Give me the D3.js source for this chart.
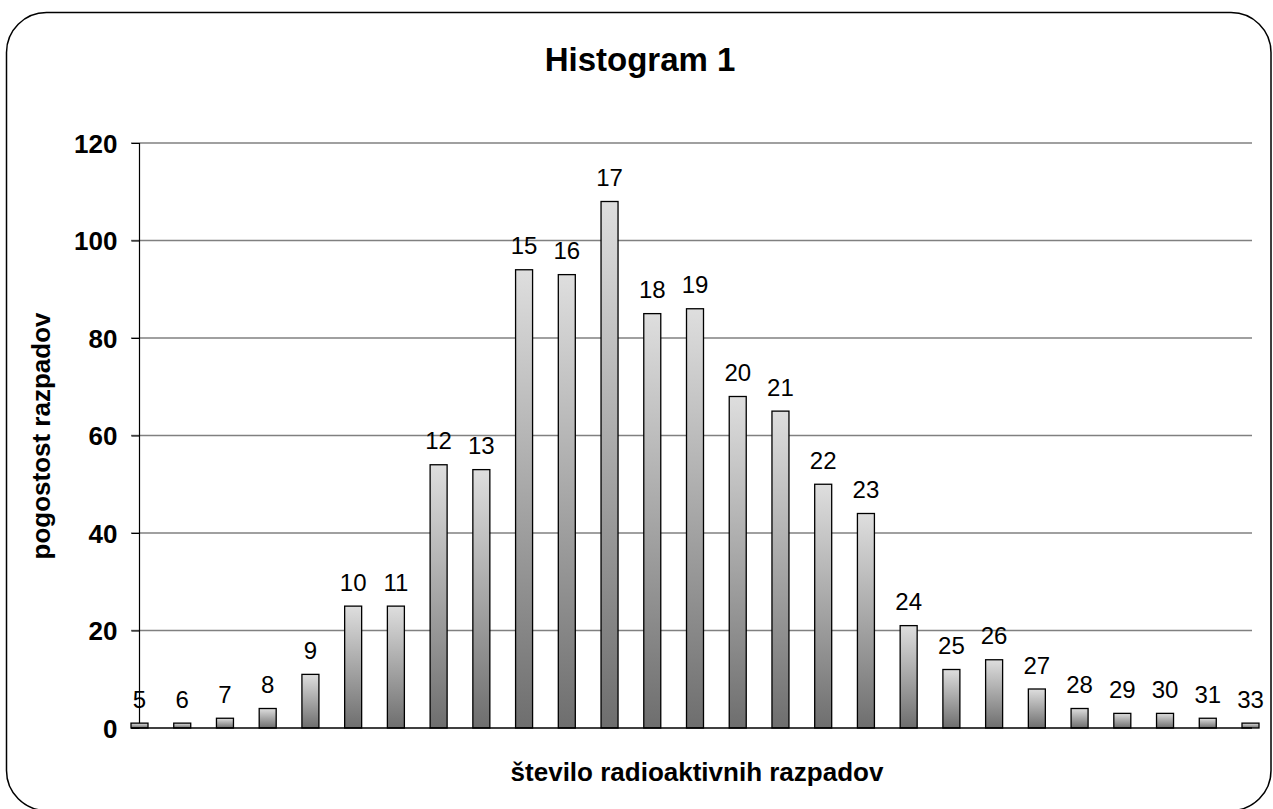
<!DOCTYPE html>
<html>
<head>
<meta charset="utf-8">
<script src="https://cdn.jsdelivr.net/npm/d3@7"></script>
<style>
html,body{margin:0;padding:0;background:#fff;}
svg{display:block;font-family:Arial,"Liberation Sans",sans-serif;}
</style>
</head>
<body>
<svg id="chart" width="1273" height="809"></svg>
<script>
const categories = ["5","6","7","8","9","10","11","12","13","15","16","17","18","19","20","21","22","23","24","25","26","27","28","29","30","31","33"];
const values = [1,1,2,4,11,25,25,54,53,94,93,108,85,86,68,65,50,44,21,12,14,8,4,3,3,2,1];
const yTicks = [0,20,40,60,80,100,120];
const titleText = "Histogram 1";
const xTitle = "število radioaktivnih razpadov";
const yTitle = "pogostost razpadov";

const svg = d3.select("#chart");

// frame
svg.append("rect")
  .attr("x",6.5).attr("y",12.5).attr("width",1264.5).attr("height",798)
  .attr("rx",40).attr("ry",40)
  .attr("fill","#fff").attr("stroke","#000").attr("stroke-width",1.5);

const defs = svg.append("defs");
const grad = defs.append("linearGradient").attr("id","barGrad")
  .attr("x1",0).attr("y1",0).attr("x2",0).attr("y2",1);
grad.append("stop").attr("offset","0%").attr("stop-color","#dedede");
grad.append("stop").attr("offset","100%").attr("stop-color","#6e6e6e");

const plotLeft = 139.5, plotRight = 1252, plotTop = 143, plotBottom = 728;

const x = d3.scalePoint().domain(categories).range([139.5, 1250.5]);
const y = d3.scaleLinear().domain([0,120]).range([plotBottom, plotTop]);

// gridlines
svg.append("g").selectAll("line").data(yTicks.filter(d=>d>0)).join("line")
  .attr("x1",131).attr("x2",plotRight)
  .attr("y1",d=>y(d)).attr("y2",d=>y(d))
  .attr("stroke","#808080").attr("stroke-width",1.5);

// y axis
const yAxis = d3.axisLeft(y).tickValues(yTicks).tickSize(8).tickPadding(14);
const yg = svg.append("g").attr("transform",`translate(${plotLeft},0)`).call(yAxis);
yg.select(".domain").remove();
yg.selectAll(".tick line").attr("stroke","#000").attr("stroke-width",1);
yg.selectAll(".tick text")
  .attr("font-family","Arial, 'Liberation Sans', sans-serif")
  .attr("font-size",26).attr("font-weight","bold").attr("fill","#000")
  .attr("dy","0.36em");
svg.append("line").attr("x1",plotLeft).attr("x2",plotLeft)
  .attr("y1",plotTop).attr("y2",plotBottom)
  .attr("stroke","#000").attr("stroke-width",1.2);

// bars
const barW = 17;
svg.append("g").selectAll("rect").data(values).join("rect")
  .attr("x",(d,i)=>x(categories[i]) - barW/2)
  .attr("y",d=>y(d))
  .attr("width",barW)
  .attr("height",d=>plotBottom - y(d))
  .attr("fill","url(#barGrad)")
  .attr("stroke","#000").attr("stroke-width",1.3);

// baseline
svg.append("line").attr("x1",131).attr("x2",plotRight)
  .attr("y1",plotBottom).attr("y2",plotBottom)
  .attr("stroke","#000").attr("stroke-width",1.3);

// bar labels (category names)
svg.append("g").selectAll("text").data(values).join("text")
  .attr("x",(d,i)=>x(categories[i]))
  .attr("y",d=>y(d) - 15.5)
  .attr("text-anchor","middle")
  .attr("font-size",24).attr("fill","#000")
  .text((d,i)=>categories[i]);

// title
svg.append("text").attr("x",640).attr("y",71).attr("text-anchor","middle")
  .attr("font-size",33).attr("font-weight","bold").text(titleText);

// x title
svg.append("text").attr("x",697).attr("y",781).attr("text-anchor","middle")
  .attr("font-size",26).attr("font-weight","bold").text(xTitle);

// y title
svg.append("text").attr("transform","translate(50,436) rotate(-90)")
  .attr("text-anchor","middle")
  .attr("font-size",26).attr("font-weight","bold").text(yTitle);
</script>
</body>
</html>
